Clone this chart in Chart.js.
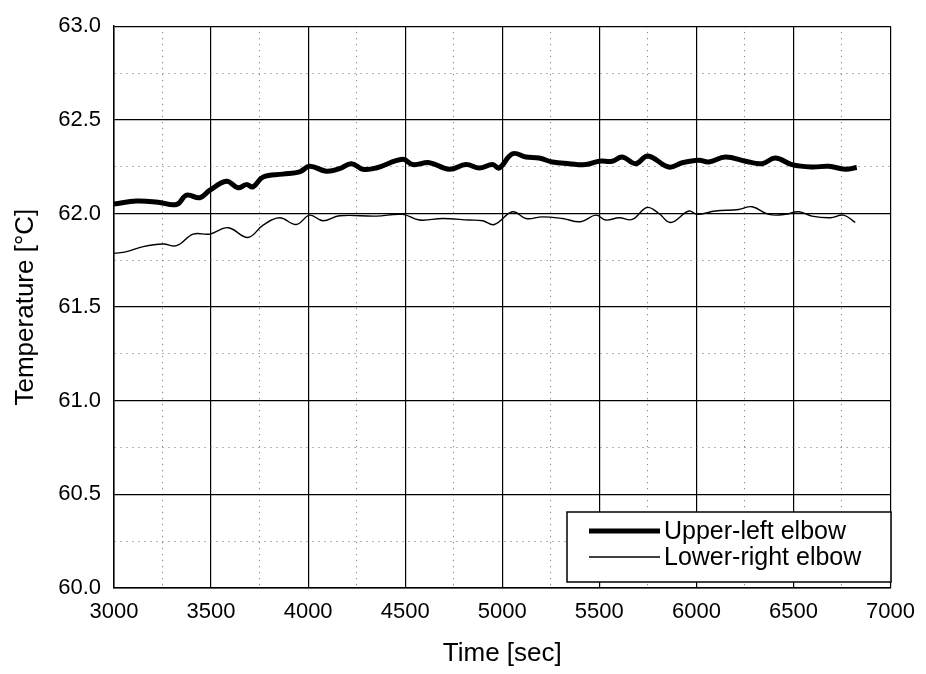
<!DOCTYPE html>
<html>
<head>
<meta charset="utf-8">
<script src="https://cdn.jsdelivr.net/npm/chart.js@4/dist/chart.umd.min.js"></script>
<style>
  html, body { margin: 0; padding: 0; background: #ffffff; }
  #wrap { width: 926px; height: 674px; }
</style>
</head>
<body>
<div id="wrap"><canvas id="chart" width="926" height="674"></canvas></div>
<script>
// Elbow temperature records
const upperTime = [3000, 3117, 3226, 3322, 3374, 3442, 3494, 3579, 3639, 3682, 3716, 3768, 3869, 3956, 4008, 4093, 4162, 4222, 4282, 4351, 4487, 4539, 4625, 4727, 4813, 4882, 4950, 4984, 5053, 5122, 5190, 5258, 5344, 5430, 5499, 5567, 5618, 5687, 5750, 5858, 5927, 6013, 6064, 6150, 6253, 6338, 6407, 6492, 6595, 6681, 6767, 6826];
const upperTemp = [62.050, 62.066, 62.060, 62.048, 62.098, 62.084, 62.124, 62.172, 62.137, 62.154, 62.142, 62.195, 62.210, 62.222, 62.252, 62.226, 62.239, 62.266, 62.236, 62.243, 62.289, 62.261, 62.271, 62.236, 62.261, 62.243, 62.261, 62.243, 62.319, 62.302, 62.296, 62.275, 62.266, 62.261, 62.279, 62.279, 62.302, 62.266, 62.307, 62.248, 62.271, 62.284, 62.275, 62.302, 62.279, 62.266, 62.296, 62.261, 62.248, 62.252, 62.236, 62.245];

const lowerTime = [3000, 3065, 3151, 3253, 3322, 3408, 3494, 3588, 3690, 3768, 3853, 3939, 4008, 4076, 4162, 4351, 4487, 4573, 4693, 4830, 4899, 4959, 5053, 5122, 5207, 5310, 5404, 5482, 5533, 5602, 5670, 5745, 5807, 5867, 5961, 6004, 6098, 6218, 6287, 6373, 6458, 6527, 6595, 6690, 6758, 6818];
const lowerTemp = [61.787, 61.796, 61.823, 61.837, 61.828, 61.890, 61.890, 61.924, 61.872, 61.938, 61.977, 61.941, 61.991, 61.961, 61.988, 61.986, 61.995, 61.965, 61.973, 61.965, 61.961, 61.941, 62.009, 61.973, 61.982, 61.973, 61.956, 61.991, 61.965, 61.977, 61.968, 62.032, 62.000, 61.952, 62.013, 61.995, 62.013, 62.021, 62.036, 61.995, 61.995, 62.009, 61.986, 61.977, 61.991, 61.952];

const seriesNames = ['Upper-left elbow', 'Lower-right elbow'];
const xTitle = 'Time [sec]';
const yTitle = 'Temperature [°C]';

const FONT = '"Liberation Sans", Arial, Helvetica, sans-serif';

function pairs(xs, ys) {
  return xs.map((x, i) => ({ x: x, y: ys[i] }));
}

// major lines solid, minor lines dotted
function isMajor(value, step) {
  return Math.abs(value / step - Math.round(value / step)) < 1e-6;
}

// boxed legend in the lower right corner of the plot
const boxLegend = {
  id: 'boxLegend',
  afterDraw(chart) {
    const ctx = chart.ctx;
    const x0 = 567, y0 = 512, x1 = 891, y1 = 582;
    ctx.save();
    ctx.fillStyle = '#ffffff';
    ctx.fillRect(x0, y0, x1 - x0, y1 - y0);
    ctx.strokeStyle = '#000000';
    ctx.lineWidth = 1.5;
    ctx.strokeRect(x0, y0, x1 - x0, y1 - y0);
    const rows = [531, 557];
    chart.data.datasets.forEach((ds, i) => {
      const y = rows[i];
      ctx.beginPath();
      ctx.lineWidth = ds.borderWidth;
      ctx.strokeStyle = ds.borderColor;
      ctx.moveTo(589, y);
      ctx.lineTo(660, y);
      ctx.stroke();
      ctx.fillStyle = '#000000';
      ctx.font = '25px ' + FONT;
      ctx.textBaseline = 'middle';
      ctx.textAlign = 'left';
      ctx.fillText(ds.label, 664, y + 1);
    });
    ctx.restore();
  }
};

new Chart(document.getElementById('chart'), {
  type: 'line',
  data: {
    datasets: [
      {
        label: seriesNames[0],
        data: pairs(upperTime, upperTemp),
        borderColor: '#000000',
        borderWidth: 5,
        pointRadius: 0,
        tension: 0.4,
        fill: false
      },
      {
        label: seriesNames[1],
        data: pairs(lowerTime, lowerTemp),
        borderColor: '#000000',
        borderWidth: 1.4,
        pointRadius: 0,
        tension: 0.4,
        fill: false
      }
    ]
  },
  options: {
    responsive: false,
    animation: false,
    layout: { padding: { top: 24, right: 32, left: 0, bottom: 0 } },
    plugins: {
      legend: { display: false },
      tooltip: { enabled: false }
    },
    scales: {
      x: {
        type: 'linear',
        min: 3000,
        max: 7000,
        afterFit(scale) { scale.height = 86; },
        ticks: {
          stepSize: 250,
          autoSkip: false,
          maxRotation: 0,
          padding: 11,
          color: '#000000',
          font: { family: FONT, size: 22 },
          callback(v) { return isMajor(v, 500) ? String(v) : ''; }
        },
        grid: {
          drawTicks: false,
          color(ctx) {
            const v = ctx.tick ? ctx.tick.value : 0;
            return isMajor(v, 500) ? '#000000' : '#6a6a6a';
          },
          lineWidth(ctx) {
            const v = ctx.tick ? ctx.tick.value : 0;
            return isMajor(v, 500) ? 1.2 : 1;
          }
        },
        border: {
          color: '#000000',
          width: 1.5,
          dash(ctx) {
            if (!ctx.tick) return [];
            return isMajor(ctx.tick.value, 500) ? [] : [1, 5];
          }
        },
        title: {
          display: true,
          text: xTitle,
          color: '#000000',
          font: { family: FONT, size: 26 },
          padding: { top: 0, bottom: 5 }
        }
      },
      y: {
        type: 'linear',
        min: 60,
        max: 63,
        afterFit(scale) { scale.width = 114; },
        ticks: {
          stepSize: 0.25,
          autoSkip: false,
          padding: 13,
          color: '#000000',
          font: { family: FONT, size: 22 },
          callback(v) { return isMajor(v, 0.5) ? v.toFixed(1) : ''; }
        },
        grid: {
          drawTicks: false,
          color(ctx) {
            const v = ctx.tick ? ctx.tick.value : 0;
            return isMajor(v, 0.5) ? '#000000' : '#6a6a6a';
          },
          lineWidth(ctx) {
            const v = ctx.tick ? ctx.tick.value : 0;
            return isMajor(v, 0.5) ? 1.2 : 1;
          }
        },
        border: {
          color: '#000000',
          width: 1.5,
          dash(ctx) {
            if (!ctx.tick) return [];
            return isMajor(ctx.tick.value, 0.5) ? [] : [1, 5];
          }
        },
        title: {
          display: true,
          text: yTitle,
          color: '#000000',
          font: { family: FONT, size: 26 },
          padding: { top: 10, bottom: 0 }
        }
      }
    }
  },
  plugins: [boxLegend]
});
</script>
</body>
</html>
